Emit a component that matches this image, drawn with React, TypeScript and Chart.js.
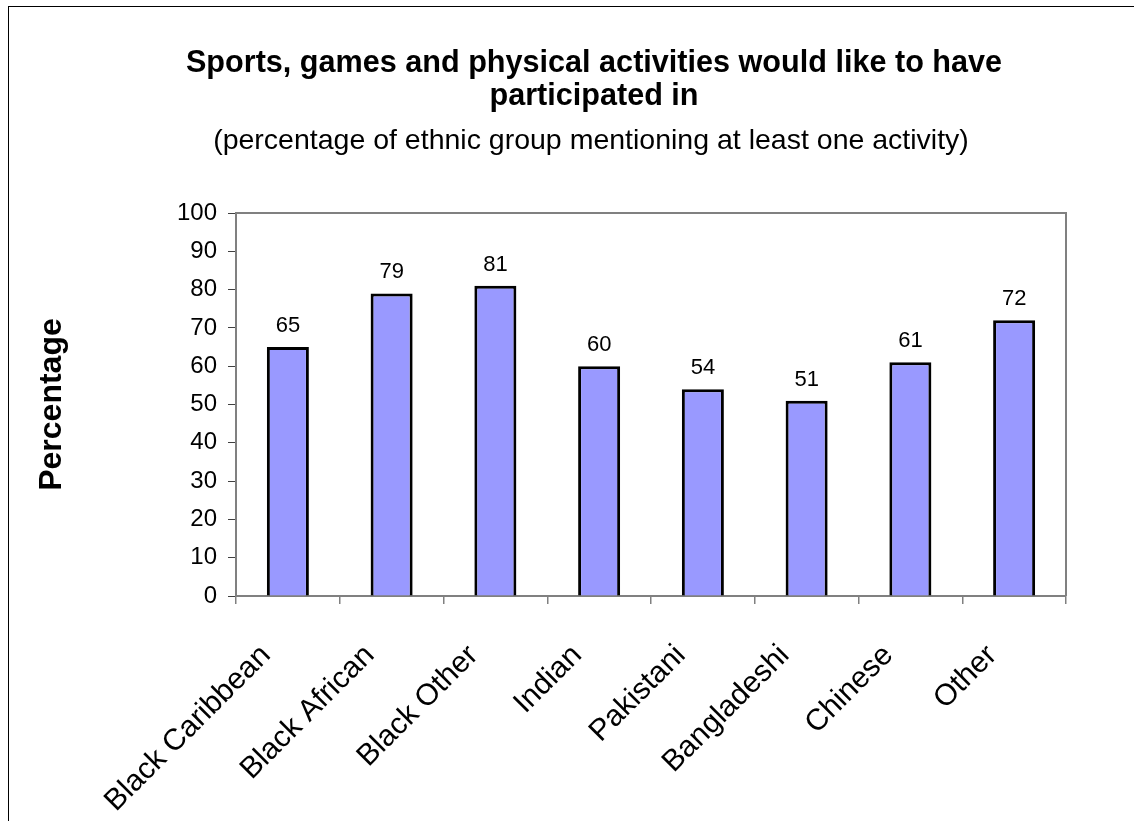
import React, { useEffect, useRef } from "react";
import { Chart, registerables } from "chart.js";

Chart.register(...registerables);

const categories: string[] = [
  "Black Caribbean",
  "Black African",
  "Black Other",
  "Indian",
  "Pakistani",
  "Bangladeshi",
  "Chinese",
  "Other",
];
const percentages: number[] = [65, 79, 81, 60, 54, 51, 61, 72];
const titleLines: string[] = [
  "Sports, games and physical activities would like to have",
  "participated in",
];
const subtitleText = "(percentage of ethnic group mentioning at least one activity)";
const yAxisTitle = "Percentage";
const yMin = 0;
const yMax = 100;
const yStep = 10;

const FONT = "'Liberation Sans', Arial, Helvetica, sans-serif";
const AXIS_GRAY = "#808080";

export default function App() {
  const canvasRef = useRef<HTMLCanvasElement | null>(null);

  useEffect(() => {
    const canvas = canvasRef.current;
    if (!canvas) return;

    const frameAndText = {
      id: "frameAndText",
      beforeDatasetsDraw(chart: any) {
        const { ctx, chartArea } = chart;
        ctx.save();
        ctx.strokeStyle = AXIS_GRAY;
        ctx.lineWidth = 2;
        ctx.beginPath();
        ctx.moveTo(chartArea.left, chartArea.top);
        ctx.lineTo(chartArea.right, chartArea.top);
        ctx.lineTo(chartArea.right, chartArea.bottom);
        ctx.stroke();
        ctx.restore();
      },
      afterDatasetsDraw(chart: any) {
        const { ctx } = chart;
        const meta = chart.getDatasetMeta(0);
        ctx.save();
        ctx.fillStyle = "#000";
        ctx.font = `22px ${FONT}`;
        ctx.textAlign = "center";
        ctx.textBaseline = "alphabetic";
        meta.data.forEach((bar: any, i: number) => {
          ctx.fillText(String(percentages[i]), bar.x, bar.y - 15);
        });
        ctx.restore();
      },
      afterDraw(chart: any) {
        const { ctx } = chart;
        ctx.save();
        ctx.fillStyle = "#000";
        ctx.textAlign = "center";
        ctx.textBaseline = "alphabetic";
        ctx.font = `bold 30.6px ${FONT}`;
        ctx.fillText(titleLines[0], 594, 72);
        ctx.fillText(titleLines[1], 594, 105);
        ctx.font = `28.5px ${FONT}`;
        ctx.fillText(subtitleText, 591, 149);
        ctx.restore();
      },
    };

    const chart = new Chart(canvas, {
      type: "bar",
      data: {
        labels: categories,
        datasets: [
          {
            data: percentages,
            backgroundColor: "#9999FF",
            borderColor: "#000000",
            borderWidth: 3,
            barPercentage: 0.405,
            categoryPercentage: 1,
          },
        ],
      },
      options: {
        responsive: false,
        animation: false,
        layout: { padding: { left: 0, right: 68, top: 213, bottom: 0 } },
        plugins: {
          legend: { display: false },
          title: { display: false },
          tooltip: { enabled: false },
        },
        scales: {
          x: {
            afterFit(scale: any) {
              scale.height = 225;
            },
            grid: {
              display: true,
              offset: true,
              drawOnChartArea: false,
              drawTicks: true,
              tickLength: 8,
              color: AXIS_GRAY,
              lineWidth: 1.5,
            },
            border: { display: true, color: AXIS_GRAY, width: 2 },
            ticks: {
              autoSkip: false,
              maxRotation: 45,
              minRotation: 45,
              padding: 34,
              labelOffset: -22,
              color: "#000",
              font: { family: FONT, size: 30 },
            },
          },
          y: {
            min: yMin,
            max: yMax,
            afterFit(scale: any) {
              scale.width = 236;
            },
            grid: {
              display: true,
              drawOnChartArea: false,
              drawTicks: true,
              tickLength: 8,
              color: "#404040",
              lineWidth: 1,
            },
            border: { display: true, color: AXIS_GRAY, width: 2 },
            ticks: {
              stepSize: yStep,
              padding: 11,
              color: "#000",
              font: { family: FONT, size: 24 },
            },
            title: {
              display: true,
              text: yAxisTitle,
              color: "#000",
              font: { family: FONT, size: 32, weight: "bold" },
              padding: { top: 33, bottom: 0 },
            },
          },
        },
      },
      plugins: [frameAndText],
    });

    return () => {
      chart.destroy();
    };
  }, []);

  return (
    <div
      style={{
        position: "fixed",
        left: 0,
        top: 0,
        width: 1134,
        height: 821,
        overflow: "hidden",
        background: "#fff",
      }}
    >
      <div
        style={{
          position: "absolute",
          left: 8,
          top: 6,
          width: 1200,
          height: 900,
          borderLeft: "1.5px solid #000",
          borderTop: "1.5px solid #000",
        }}
      />
      <canvas
        ref={canvasRef}
        width={1134}
        height={821}
        style={{ position: "absolute", left: 0, top: 0, width: 1134, height: 821 }}
      />
    </div>
  );
}
